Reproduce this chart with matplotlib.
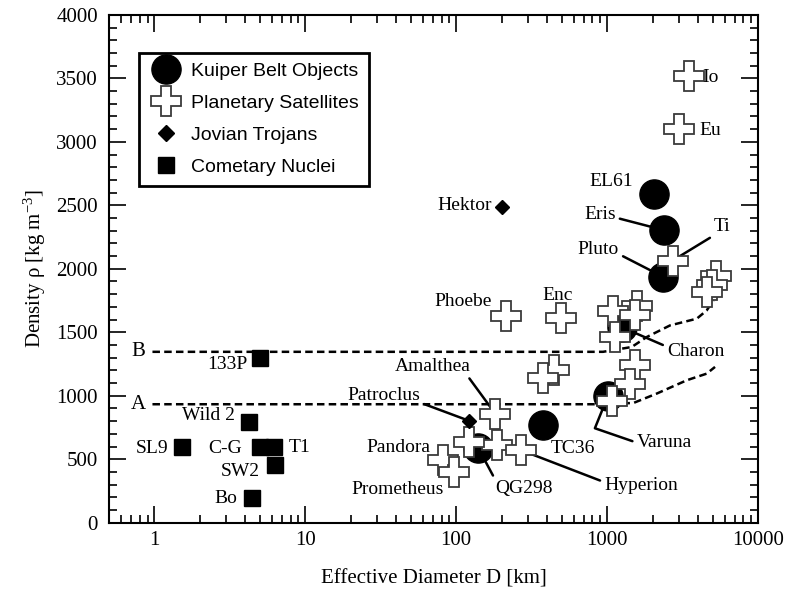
import matplotlib
matplotlib.use('Agg')
import matplotlib.pyplot as plt
from matplotlib.lines import Line2D
from matplotlib.ticker import MultipleLocator, LogLocator, FuncFormatter, NullFormatter

plt.rcParams['font.family'] = ['Liberation Serif', 'DejaVu Serif']
plt.rcParams['mathtext.fontset'] = 'custom'
plt.rcParams['mathtext.rm'] = 'Liberation Serif'
plt.rcParams['mathtext.it'] = 'Liberation Serif:italic'
plt.rcParams['mathtext.default'] = 'regular'

# ---------------- data ----------------
kbo_names = ['EL61', 'Eris', 'Pluto', 'Charon', 'Varuna', 'TC36', 'QG298']
kbo_D = [2050, 2370, 2340, 1250, 1010, 375, 140]
kbo_rho = [2590, 2305, 1938, 1540, 995, 770, 588]

sat_names = ['Io', 'Eu', 'Ti', 'Ganymede', 'Titan', 'Callisto', 'Titania', 'Ariel',
             'Oberon', 'Dione', 'Rhea', 'Iapetus', 'Tethys', 'Phoebe', 'Enc',
             'Miranda', 'Mimas', 'Amalthea', 'Janus', 'Epimetheus', 'Hyperion',
             'Pandora', 'Prometheus']
sat_D = [3480, 2990, 2720, 5300, 4950, 4600, 1570, 1100, 1530, 1130, 1530, 1420,
         1070, 213, 493, 448, 378, 181, 185, 121, 268, 82, 96]
sat_rho = [3520, 3100, 2065, 1945, 1870, 1820, 1710, 1670, 1635, 1465, 1240, 1095,
           955, 1630, 1615, 1205, 1140, 860, 612, 637, 572, 493, 403]

trojan_names = ['Hektor', 'Patroclus']
trojan_D = [200, 122]
trojan_rho = [2485, 802]

comet_names = ['133P', 'Wild 2', 'SL9', 'C-G', 'T1', 'SW2', 'Bo']
comet_D = [5.0, 4.26, 1.52, 5.0, 6.2, 6.3, 4.4]
comet_rho = [1295, 795, 597, 597, 597, 454, 195]

# model curves A and B
modelA_D = [0.97, 880, 1495, 2133, 3373, 4570, 5190]
modelA_rho = [933, 933, 943, 1017, 1122, 1174, 1227]
modelB_D = [0.97, 940, 1456, 1827, 2612, 3929, 4570, 5060]
modelB_rho = [1346, 1346, 1384, 1462, 1554, 1607, 1672, 1751]

x_ticks = [1, 10, 100, 1000, 10000]
y_ticks = [0, 500, 1000, 1500, 2000, 2500, 3000, 3500, 4000]

# ---------------- figure ----------------
fig = plt.figure(figsize=(7.85, 5.97), dpi=100)
ax = fig.add_axes([0.1389, 0.1245, 0.8267, 0.8505])

ax.set_xscale('log')
ax.set_xlim(0.5, 10000)
ax.set_ylim(0, 4000)

dash = (3.0, 1.7)
ax.plot(modelA_D, modelA_rho, color='black', lw=1.8, ls=(0, dash), zorder=1)
ax.plot(modelB_D, modelB_rho, color='black', lw=1.8, ls=(0, dash), zorder=1)

edge = '#3a3a3a'
ax.plot(kbo_D, kbo_rho, ls='none', marker='o', ms=21, color='black', zorder=2)
ax.plot(sat_D, sat_rho, ls='none', marker='P', ms=21, mfc='white', mec=edge,
        mew=1.3, zorder=3)
ax.plot(trojan_D, trojan_rho, ls='none', marker='D', ms=7.3, color='black', zorder=3)
ax.plot(comet_D, comet_rho, ls='none', marker='s', ms=11.5, color='black', zorder=3)

# ---------------- labels ----------------
fs = 14
pts = {}
for n, x, y in zip(kbo_names, kbo_D, kbo_rho):
    pts[n] = (x, y)
for n, x, y in zip(sat_names, sat_D, sat_rho):
    pts[n] = (x, y)
for n, x, y in zip(trojan_names, trojan_D, trojan_rho):
    pts[n] = (x, y)
for n, x, y in zip(comet_names, comet_D, comet_rho):
    pts[n] = (x, y)

plain_labels = [
    ('Io', (4300, 3510), 'left'),
    ('Eu', (4100, 3090), 'left'),
    ('EL61', (1490, 2690), 'right'),
    ('Hektor', (172, 2500), 'right'),
    ('Phoebe', (172, 1740), 'right'),
    ('Enc', (471, 1790), 'center'),
    ('133P', (4.13, 1250), 'right'),
    ('Wild 2', (3.43, 844), 'right'),
    ('SL9', (1.24, 588), 'right'),
    ('C-G', (3.81, 585), 'right'),
    ('T1', (7.8, 595), 'left'),
    ('SW2', (4.98, 401), 'right'),
    ('Bo', (3.56, 190), 'right'),
    ('Pandora', (67.3, 590), 'right'),
    ('Prometheus', (82.4, 260), 'right'),
    ('TC36', (424, 585), 'left'),
]
for txt, (tx, ty), ha in plain_labels:
    ax.text(tx, ty, txt, ha=ha, va='center', fontsize=fs, zorder=5)

ax.text(0.78, 1346, 'B', ha='center', va='center', fontsize=15, zorder=5)
ax.text(0.78, 930, 'A', ha='center', va='center', fontsize=15, zorder=5)

lead_labels = [
    ('Eris', 'Eris', (1140, 2430), 'right', (1.0, 0.3)),
    ('Ti', 'Ti', (5100, 2330), 'left', (0.0, 0.0)),
    ('Pluto', 'Pluto', (1200, 2155), 'right', (1.0, 0.2)),
    ('Charon', 'Charon', (2490, 1346), 'left', (0.0, 0.8)),
    ('Amalthea', 'Amalthea', (69.5, 1234), 'center', (0.95, 0.0)),
    ('Patroclus', 'Patroclus', (33, 1000), 'center', (1.0, 0.1)),
    ('QG298', 'QG298', (181, 273), 'left', (0.0, 1.0)),
    ('Hyperion', 'Hyperion', (955, 293), 'left', (0.0, 0.7)),
]
for txt, key, (tx, ty), ha, rp in lead_labels:
    ax.annotate(txt, xy=pts[key], xytext=(tx, ty), ha=ha, va='center', fontsize=fs,
                zorder=1.5,
                arrowprops=dict(arrowstyle='-', lw=1.8, color='black', shrinkA=1,
                                shrinkB=0, relpos=rp))
ax.annotate('Varuna', xy=pts['Varuna'], xytext=(1566, 631), ha='left', va='center',
            fontsize=fs, zorder=1.5,
            arrowprops=dict(arrowstyle='-', lw=1.8, color='black', shrinkA=1,
                            shrinkB=0, relpos=(0.0, 0.5),
                            connectionstyle='angle,angleA=161,angleB=68,rad=0'))

# ---------------- axes styling ----------------
ax.xaxis.set_minor_locator(LogLocator(base=10, subs=range(2, 10), numticks=20))
ax.xaxis.set_minor_formatter(NullFormatter())
ax.set_xticks(x_ticks)
ax.xaxis.set_major_formatter(FuncFormatter(lambda v, p: f'{v:g}'))
ax.set_yticks(y_ticks)
ax.yaxis.set_minor_locator(MultipleLocator(100))

ax.tick_params(which='both', direction='in', top=True, right=True, width=1.2,
               labelsize=15)
ax.tick_params(which='major', length=12)
ax.tick_params(which='minor', length=5.5)
ax.tick_params(axis='x', pad=6)
ax.tick_params(axis='y', pad=8)
for s in ax.spines.values():
    s.set_linewidth(1.5)

ax.set_xlabel('Effective Diameter D [km]', fontsize=15, labelpad=14)
ax.set_ylabel('Density ρ [kg m$^{-3}$]', fontsize=15, labelpad=6)

# ---------------- legend ----------------
handles = [
    Line2D([], [], marker='o', ms=21, color='black', ls='none'),
    Line2D([], [], marker='P', ms=21, mfc='white', mec=edge, mew=1.3, ls='none'),
    Line2D([], [], marker='D', ms=8, color='black', ls='none'),
    Line2D([], [], marker='s', ms=11, color='black', ls='none'),
]
labels = ['Kuiper Belt Objects', 'Planetary Satellites', 'Jovian Trojans',
          'Cometary Nuclei']
leg = ax.legend(handles, labels, loc='upper left', bbox_to_anchor=(0.0462, 0.9252),
                borderaxespad=0, frameon=True, fancybox=False, framealpha=1,
                edgecolor='black', prop={'family': 'Liberation Sans', 'size': 14},
                borderpad=0.5, labelspacing=0.74, handlelength=1.75,
                handletextpad=0.43)
leg.get_frame().set_linewidth(2)
leg.set_zorder(6)

fig.savefig('out.png', dpi=100)
